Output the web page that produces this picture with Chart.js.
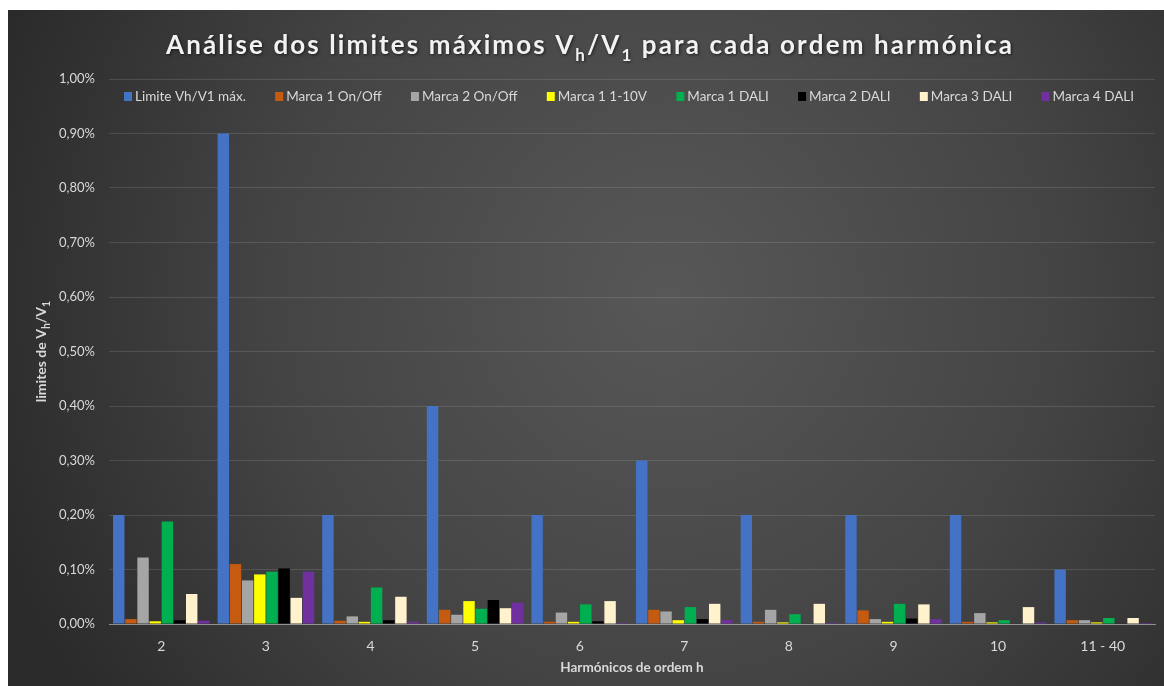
<!DOCTYPE html>
<html>
<head>
<meta charset="utf-8">
<script src="https://cdn.jsdelivr.net/npm/chart.js@4.4.1/dist/chart.umd.min.js"></script>
<style>
  html, body { margin: 0; padding: 0; background: #ffffff; }
  #wrap { position: absolute; left: 8px; top: 10px; width: 1156px; height: 676px; }
  canvas { display: block; }
</style>
</head>
<body>
<div id="wrap"><canvas id="c" width="1156" height="676"></canvas></div>
<script>
// ---- data (values in %) ----
const categories = ['2', '3', '4', '5', '6', '7', '8', '9', '10', '11 - 40'];
const seriesNames = ['Limite Vh/V1 máx.', 'Marca 1 On/Off', 'Marca 2 On/Off', 'Marca 1 1-10V', 'Marca 1 DALI', 'Marca 2 DALI', 'Marca 3 DALI', 'Marca 4 DALI'];
const limite      = [0.20, 0.90, 0.20, 0.40, 0.20, 0.30, 0.20, 0.20, 0.20, 0.10];
const marca1OnOff = [0.009, 0.110, 0.006, 0.026, 0.004, 0.026, 0.004, 0.025, 0.004, 0.007];
const marca2OnOff = [0.122, 0.080, 0.014, 0.017, 0.021, 0.023, 0.026, 0.009, 0.020, 0.007];
const marca1_110V = [0.005, 0.091, 0.004, 0.042, 0.004, 0.007, 0.003, 0.004, 0.003, 0.003];
const marca1DALI  = [0.188, 0.096, 0.067, 0.028, 0.036, 0.031, 0.018, 0.037, 0.007, 0.011];
const marca2DALI  = [0.007, 0.102, 0.007, 0.044, 0.005, 0.009, 0.001, 0.010, 0.001, 0.001];
const marca3DALI  = [0.055, 0.048, 0.050, 0.029, 0.042, 0.037, 0.037, 0.036, 0.031, 0.011];
const marca4DALI  = [0.006, 0.096, 0.004, 0.039, 0.002, 0.007, 0.002, 0.009, 0.003, 0.002];
const yTicks = [0, 0.1, 0.2, 0.3, 0.4, 0.5, 0.6, 0.7, 0.8, 0.9, 1.0];
const titleSegments = [
  {t: 'Análise dos limites máximos V'}, {t: 'h', sub: true}, {t: '/V'}, {t: '1', sub: true},
  {t: ' para cada ordem harmónica'}
];
const yTitleSegments = [{t: 'limites de V'}, {t: 'h', sub: true}, {t: '/V'}, {t: '1', sub: true}];
const xTitle = 'Harmónicos de ordem h';

const allSeries = [limite, marca1OnOff, marca2OnOff, marca1_110V, marca1DALI, marca2DALI, marca3DALI, marca4DALI];
const colors = ['#4472C4', '#C55A11', '#A5A5A5', '#FFFF00', '#00B050', '#000000', '#FFF2CC', '#7030A0'];

const FONT = 'Lato, "Open Sans", "DejaVu Sans", sans-serif';
const TXT = '#d9d9d9';

function drawSegments(ctx, segs, cx, cy, size, subSize, weight, spacing, measureOnly) {
  const pieces = [];
  let total = 0;
  segs.forEach(s => {
    const fs = s.sub ? subSize : size;
    ctx.font = weight + ' ' + fs + 'px ' + FONT;
    for (const ch of s.t) {
      const w = ctx.measureText(ch).width;
      pieces.push({ch, w, fs, sub: !!s.sub});
      total += w + spacing;
    }
  });
  total -= spacing;
  if (measureOnly) return total;
  let x = cx - total / 2;
  ctx.textBaseline = 'alphabetic';
  ctx.textAlign = 'left';
  pieces.forEach(p => {
    ctx.font = weight + ' ' + p.fs + 'px ' + FONT;
    ctx.fillText(p.ch, x, cy + (p.sub ? size * 0.25 : 0));
    x += p.w + spacing;
  });
  return total;
}

const bgPlugin = {
  id: 'bg',
  beforeDraw(chart) {
    const {ctx, width, height} = chart;
    ctx.save();
    const g = ctx.createRadialGradient(width * 0.57, height * 0.42, 10, width * 0.57, height * 0.42, width * 0.62);
    g.addColorStop(0, '#575757');
    g.addColorStop(0.55, '#444444');
    g.addColorStop(1, '#2a2a2a');
    ctx.fillStyle = g;
    ctx.fillRect(0, 0, width, height);
    ctx.restore();
  }
};

const textPlugin = {
  id: 'texts',
  afterDraw(chart) {
    const {ctx, chartArea} = chart;
    ctx.save();
    // Title
    const n = titleSegments.reduce((a, s) => a + [...s.t].length, 0) - 1;
    const w0 = drawSegments(ctx, titleSegments, 0, 0, 26, 17, 'bold', 0, true);
    const sp = (846 - w0) / n;
    ctx.fillStyle = '#f2f2f2';
    ctx.shadowColor = 'rgba(0,0,0,0.6)';
    ctx.shadowBlur = 3;
    ctx.shadowOffsetX = 1;
    ctx.shadowOffsetY = 1;
    drawSegments(ctx, titleSegments, 581, 44, 26, 17, 'bold', sp, false);
    ctx.shadowColor = 'transparent';

    // Y axis title
    ctx.fillStyle = TXT;
    ctx.translate(38, (chartArea.top + chartArea.bottom) / 2);
    ctx.rotate(-Math.PI / 2);
    drawSegments(ctx, yTitleSegments, 0, 0, 14, 10.5, 'bold', 0, false);
    ctx.restore();

    // X axis title
    ctx.save();
    ctx.fillStyle = TXT;
    ctx.font = 'bold 13.5px ' + FONT;
    ctx.textAlign = 'center';
    ctx.textBaseline = 'middle';
    ctx.fillText(xTitle, (chartArea.left + chartArea.right) / 2, 658);
    ctx.restore();

    // Legend
    ctx.save();
    ctx.font = '13.5px ' + FONT;
    ctx.textBaseline = 'middle';
    ctx.textAlign = 'left';
    const sw = 8, gap = 3;
    const items = chart.data.datasets.map(d => ({label: d.label, color: d.backgroundColor, w: sw + gap + ctx.measureText(d.label).width}));
    const sum = items.reduce((a, it) => a + it.w, 0);
    const totalW = 1010;
    const between = (totalW - sum) / (items.length - 1);
    let x = 116;
    const y = 87;
    items.forEach(it => {
      ctx.fillStyle = it.color;
      ctx.fillRect(x, y - sw / 2 - 1, sw, sw + 1);
      ctx.fillStyle = TXT;
      ctx.fillText(it.label, x + sw + gap, y);
      x += it.w + between;
    });
    ctx.restore();
  }
};

const datasets = allSeries.map((arr, i) => ({
  label: seriesNames[i],
  data: arr,
  backgroundColor: colors[i],
  borderWidth: 0,
  categoryPercentage: 0.93,
  barPercentage: 0.94
}));

new Chart(document.getElementById('c'), {
  type: 'bar',
  data: {labels: categories, datasets},
  options: {
    responsive: false,
    animation: false,
    layout: {padding: {top: 69, right: 9, bottom: 0, left: 0}},
    plugins: {
      legend: {display: false},
      title: {display: false},
      tooltip: {enabled: false}
    },
    scales: {
      x: {
        grid: {display: false, drawTicks: false},
        border: {display: true, color: 'rgba(200,200,200,0.55)', width: 1},
        ticks: {color: TXT, font: {family: FONT, size: 14}, padding: 14},
        afterFit(s) { s.height = 62; }
      },
      y: {
        min: 0, max: 1.0,
        afterBuildTicks(s) { s.ticks = yTicks.map(v => ({value: v})); },
        grid: {color: 'rgba(255,255,255,0.12)', drawTicks: false, lineWidth: 1},
        border: {display: false},
        ticks: {
          color: TXT, font: {family: FONT, size: 13}, padding: 14,
          callback: v => v.toFixed(2).replace('.', ',') + '%'
        },
        afterFit(s) { s.width = 101; }
      }
    }
  },
  plugins: [bgPlugin, textPlugin]
});
</script>
</body>
</html>
